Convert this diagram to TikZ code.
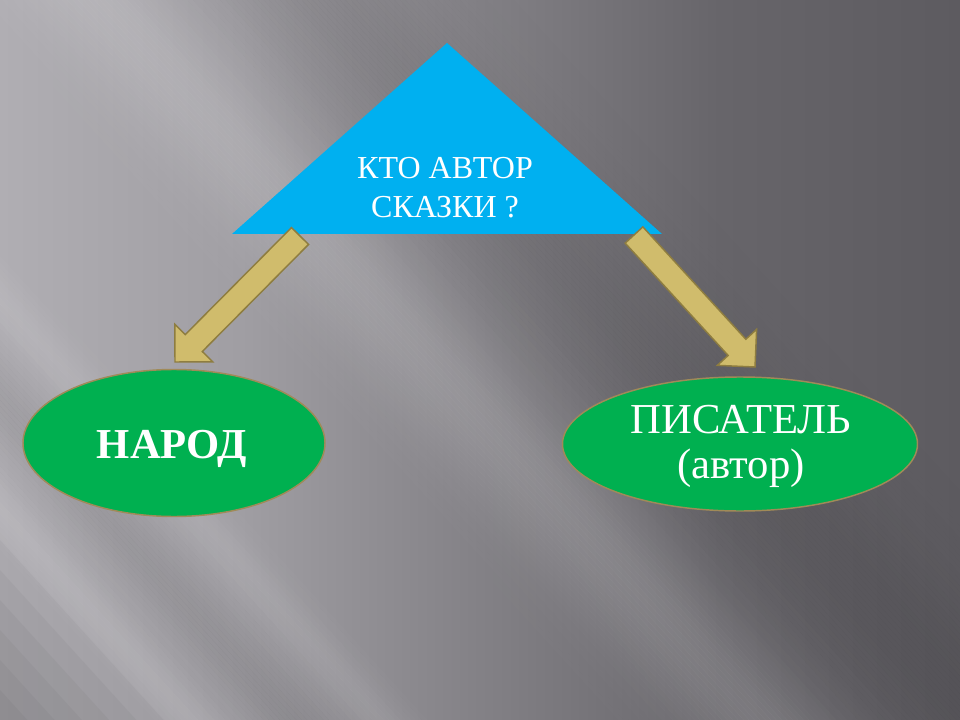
\documentclass[tikz,border=0pt]{standalone}
\usepackage{fontspec}
\setmainfont{Liberation Serif}
\usetikzlibrary{calc,shapes.geometric}
\definecolor{tri}{HTML}{00B0F0}
\definecolor{grn}{HTML}{00B050}
\definecolor{elledge}{HTML}{A08A58}
\definecolor{arrfill}{HTML}{D0BC6C}
\definecolor{arredge}{HTML}{8E7D40}
\definecolor{bga}{HTML}{B0AEB3}
\definecolor{bgb}{HTML}{A09EA3}
\definecolor{bgc}{HTML}{838186}
\definecolor{bgd}{HTML}{67656A}
\definecolor{bge}{HTML}{5D5B60}
\pgfdeclarehorizontalshading{bgbase}{100bp}{color(0bp)=(bga); color(25bp)=(bga); color(37.5bp)=(bgb); color(50bp)=(bgc); color(62.5bp)=(bgd); color(75bp)=(bge); color(100bp)=(bge)}
\tikzset{
  ell/.style={ellipse, draw=elledge, line width=1.1pt, fill=grn, inner sep=0pt},
  arrowstyle/.style={fill=arrfill, draw=arredge, line width=1.1pt, line join=miter},
  lbl/.style={text=white, inner sep=0pt},
  tritext/.style={text=white, inner sep=0pt, align=center, font=\fontsize{24}{29}\selectfont}
}
\newcommand\blockarrow[2]{%
  \coordinate (nk) at ($(#2)!20pt!(#1)$);
  \filldraw[arrowstyle] ($(#1)!9pt!90:(nk)$) -- ($(nk)!9pt!-90:(#1)$) -- ($(nk)!20pt!-90:(#1)$) -- (#2) -- ($(nk)!20pt!90:(#1)$) -- ($(nk)!9pt!90:(#1)$) -- ($(#1)!9pt!-90:(nk)$) -- cycle;}
\begin{document}
\begin{tikzpicture}[x=0.75pt,y=-0.75pt]
\useasboundingbox (0,0) rectangle (960,720);
% background
\begin{scope}
\clip (0,0) rectangle (960,720);
\shade[shading=bgbase] (0,0) rectangle (960,720);
\foreach \c in {-1160,-1154,...,700} {
  \pgfmathsetmacro{\wl}{0.14*exp(-((\c+115)/85)^2)+0.09*exp(-((\c-300)/35)^2)+0.09*exp(-((\c-505)/30)^2)}
  \pgfmathsetmacro{\bl}{0.08*exp(-((\c-400)/50)^2)+0.08*exp(-((\c+360)/110)^2)}
  \fill[white, fill opacity=\wl] (-20,{\c-22}) -- (1000,{\c+1100}) -- (1000,{\c+1106}) -- (-20,{\c-16}) -- cycle;
  \fill[black, fill opacity=\bl] (-20,{\c-22}) -- (1000,{\c+1100}) -- (1000,{\c+1106}) -- (-20,{\c-16}) -- cycle;
}
% darker lower-left corner: stacked half planes
\foreach \c in {540,570,...,780} {
  \fill[black, fill opacity=0.03] (-20,{\c-22}) -- (1000,{\c+1100}) -- (1000,2200) -- (-20,2200) -- cycle;
}
\end{scope}
% triangle
\coordinate (tA) at (447,43);
\coordinate (tL) at (232,234);
\coordinate (tR) at (662,234);
\fill[tri] (tA) -- (tR) -- (tL) -- cycle;
% ellipses
\node[ell, minimum width=226.5pt, minimum height=110.25pt] (narod) at (174,443) {};
\node[ell, minimum width=266.25pt, minimum height=100.5pt] (pisatel) at (740,444) {};
% arrows
\coordinate (la) at (300,236);
\coordinate (lb) at (175,362);
\coordinate (ra) at (634,235);
\coordinate (rb) at (755,367);
\blockarrow{la}{lb}
\blockarrow{ra}{rb}
% texts
\node[tritext] (q) at (445,187.5) {КТО АВТОР\\СКАЗКИ ?};
\node[lbl, font=\bfseries\fontsize{32}{34}\selectfont, anchor=base] (narodtxt) at (172,458) {НАРОД};
\node[lbl, align=center, font=\fontsize{32}{33.75}\selectfont] (pistxt) at (741,446) {ПИСАТЕЛЬ\\(автор)};
\end{tikzpicture}
\end{document}
